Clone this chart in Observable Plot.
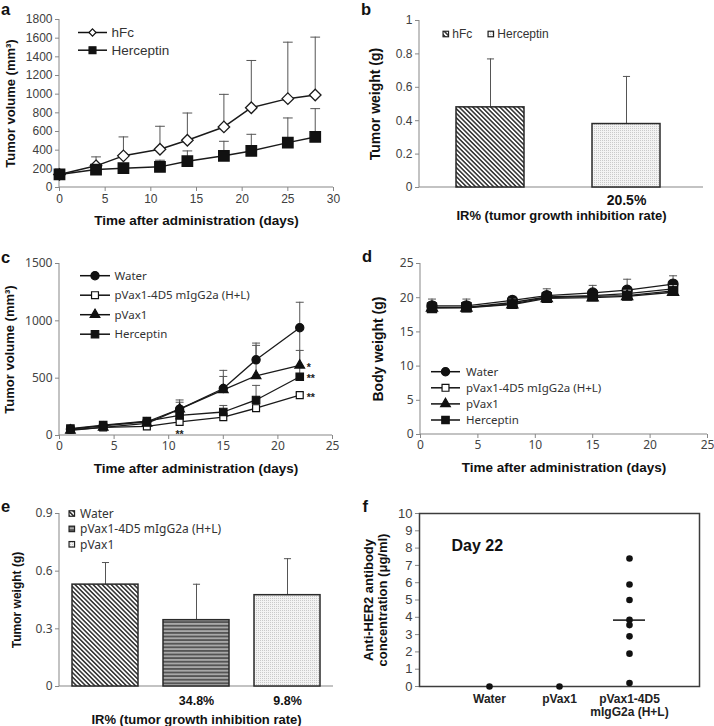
<!DOCTYPE html>
<html><head><meta charset="utf-8">
<script src="https://cdn.jsdelivr.net/npm/d3@7"></script>
<script src="https://cdn.jsdelivr.net/npm/@observablehq/plot@0.6"></script>
<style>
body{margin:0;background:#fff;}
#fig{position:relative;width:714px;height:726px;overflow:hidden;background:#fff;}
</style>
</head><body>
<svg width="0" height="0" style="position:absolute">
  <defs>
    <pattern id="pDiag" patternUnits="userSpaceOnUse" width="3.2" height="3.2" patternTransform="rotate(-45)">
      <rect width="3.2" height="3.2" fill="#ffffff"/>
      <rect width="1.6" height="3.2" fill="#3a3a3a"/>
    </pattern>
    <pattern id="pStripe" patternUnits="userSpaceOnUse" width="4" height="3.6">
      <rect width="4" height="3.6" fill="#a8a8a8"/>
      <rect width="4" height="1.8" fill="#555555"/>
    </pattern>
    <pattern id="pDots" patternUnits="userSpaceOnUse" width="2" height="2">
      <rect width="2" height="2" fill="#f3f3f3"/>
      <rect width="1" height="1" fill="#cacaca"/>
    </pattern>
  </defs>
</svg>
<div id="fig"></div>
<script>
// ---------------- DATA ----------------
// panel a
const daysA = [0, 4, 7, 11, 14, 18, 21, 25, 28];
const seriesA = ["hFc", "Herceptin"];
const hFcVolume = [140, 232, 339, 410, 506, 649, 855, 952, 991];
const hFcVolumeSD = [45, 96, 203, 246, 292, 349, 506, 605, 620];
const herceptinVolumeA = [140, 192, 207, 221, 282, 339, 392, 481, 542];
const herceptinVolumeSDA = [20, 18, 28, 71, 110, 156, 178, 264, 303];
const yTicksA = [0, 200, 400, 600, 800, 1000, 1200, 1400, 1600, 1800];
const xTicksA = [0, 5, 10, 15, 20, 25, 30];

// panel b
const groupsB = ["hFc", "Herceptin"];
const weightB = [0.48, 0.38];
const weightSDB = [0.29, 0.285];
const irB = ["", "20.5%"];
const yTicksB = [0, 0.2, 0.4, 0.6, 0.8, 1];

// panel c
const daysC = [1, 4, 8, 11, 15, 18, 22];
const seriesC = ["Water", "pVax1-4D5 mIgG2a (H+L)", "pVax1", "Herceptin"];
const volWater = [55, 85, 120, 230, 410, 660, 940];
const volWaterSD = [12, 12, 15, 80, 158, 146, 222];
const vol4D5 = [50, 70, 80, 118, 160, 238, 352];
const vol4D5SD = [8, 8, 10, 15, 20, 25, 20];
const volPVax1 = [45, 70, 105, 230, 398, 520, 612];
const volPVax1SD = [10, 10, 12, 60, 117, 266, 130];
const volHerc = [60, 90, 125, 175, 205, 310, 512];
const volHercSD = [10, 10, 15, 40, 57, 127, 440];
const sigSeriesC = ["pVax1", "Herceptin", "pVax1-4D5 mIgG2a (H+L)"];
const sigDayC = [22, 22, 22];
const sigLabelC = ["*", "**", "**"];
const sigBelowSeriesC = ["pVax1-4D5 mIgG2a (H+L)"];
const sigBelowDayC = [11];
const sigBelowLabelC = ["**"];
const yTicksC = [0, 500, 1000, 1500];
const xTicksC = [0, 5, 10, 15, 20, 25];

// panel d
const bwWater = [18.8, 18.8, 19.6, 20.3, 20.7, 21.1, 22.0];
const bwWaterSD = [1.0, 1.0, 0.6, 1.0, 1.1, 1.6, 1.2];
const bw4D5 = [18.6, 18.6, 19.3, 20.1, 20.3, 20.6, 21.3];
const bw4D5SD = [0.8, 0.8, 0.8, 0.8, 0.9, 1.0, 1.0];
const bwPVax1 = [18.5, 18.5, 19.0, 19.9, 20.0, 20.2, 20.8];
const bwPVax1SD = [0.8, 0.8, 0.8, 0.8, 0.8, 0.9, 0.8];
const bwHerc = [18.5, 18.6, 19.1, 20.0, 20.2, 20.3, 21.0];
const bwHercSD = [0.8, 0.8, 0.8, 0.8, 0.8, 0.8, 0.9];
const yTicksD = [0, 5, 10, 15, 20, 25];

// panel e
const groupsE = ["Water", "pVax1-4D5 mIgG2a (H+L)", "pVax1"];
const weightE = [0.53, 0.345, 0.475];
const weightSDE = [0.115, 0.187, 0.19];
const irE = ["", "34.8%", "9.8%"];
const yTicksE = [0, 0.3, 0.6, 0.9];

// panel f
const groupsF = ["Water", "pVax1", "pVax1-4D5 mIgG2a (H+L)"];
const groupLabelsF = ["Water", "pVax1", "pVax1-4D5\nmIgG2a (H+L)"];
const concWater = [0];
const concPVax1 = [0];
const conc4D5 = [7.4, 5.9, 5.0, 3.85, 3.55, 2.9, 1.9, 0.2];
const yTicksF = [0, 1, 2, 3, 4, 5, 6, 7, 8, 9, 10];

// ---------------- HELPERS ----------------
const ARIAL = '"Liberation Sans", Arial, sans-serif';
const KFONT = '"Noto Sans", "Liberation Sans", sans-serif';
const AXIS = "#878787";
const plain = d => String(d);
const fig = document.getElementById("fig");
function place(node, left, top) {
  node.style.position = "absolute"; node.style.left = left + "px"; node.style.top = top + "px";
  fig.appendChild(node);
}
const cap = { draw(ctx, size) { const w = Math.sqrt(size) / 2; ctx.moveTo(-w, 0); ctx.lineTo(w, 0); } };
const DIAMOND = d3.symbolDiamond2 || d3.symbolDiamond;
function addAxisLines(plot) {
  const xr = plot.scale("x").range, yr = plot.scale("y").range;
  const g = d3.select(plot).insert("g", "g").attr("stroke", AXIS).attr("stroke-width", 1);
  g.append("line").attr("x1", xr[0]).attr("x2", xr[0]).attr("y1", yr[0]).attr("y2", yr[1]);
  g.append("line").attr("x1", xr[0]).attr("x2", xr[1]).attr("y1", yr[0]).attr("y2", yr[0]);
}
function rowsOf(days, names, vals, sds) {
  const out = [];
  names.forEach((s, k) => days.forEach((d, i) => out.push({series: s, day: d, v: vals[k][i], sd: sds[k][i]})));
  return out;
}
function yTitle(t, dx, size) {
  return Plot.text([t], {frameAnchor: "left", rotate: -90, dx, textAnchor: "middle", lineAnchor: "middle",
    fontWeight: "bold", fontSize: size, fontFamily: ARIAL, fill: "#111"});
}
function xTitle(t, dy, size) {
  return Plot.text([t], {frameAnchor: "bottom", dy, textAnchor: "middle", lineAnchor: "middle",
    fontWeight: "bold", fontSize: size, fontFamily: ARIAL, fill: "#111"});
}
function errMarks(rows, x, capR) {
  return [
    Plot.ruleX(rows, {x, y1: "v", y2: d => d.v + d.sd, stroke: "#555", strokeWidth: 1}),
    Plot.dot(rows, {x, y: d => d.v + d.sd, symbol: cap, r: capR, stroke: "#555", fill: "none", strokeWidth: 1})
  ];
}

// ---------------- PANEL a ----------------
const rowsA = rowsOf(daysA, seriesA, [hFcVolume, herceptinVolumeA], [hFcVolumeSD, herceptinVolumeSDA]);
const pa = Plot.plot({
  width: 357, height: 228, marginLeft: 59, marginRight: 24, marginTop: 19, marginBottom: 41,
  style: {fontFamily: ARIAL, fontSize: "12px", background: "none", overflow: "visible"},
  x: {domain: [0, 30]}, y: {domain: [0, 1800]},
  marks: [
    Plot.axisY({ticks: yTicksA, tickFormat: plain, tickSize: 4, tickPadding: 3, stroke: AXIS, fill: "#404040", label: null, fontSize: 12, fontFamily: ARIAL}),
    Plot.axisX({ticks: xTicksA, tickFormat: plain, tickSize: 4, tickPadding: 3, stroke: AXIS, fill: "#404040", label: null, fontSize: 12, fontFamily: ARIAL}),
    ...errMarks(rowsA, "day", 5.5),
    Plot.line(rowsA, {x: "day", y: "v", z: "series", stroke: "#1a1a1a", strokeWidth: 1.5}),
    Plot.dot(rowsA.filter(d => d.series === seriesA[0]), {x: "day", y: "v", symbol: DIAMOND, r: 5.2, fill: "#fff", stroke: "#1a1a1a", strokeWidth: 1.3}),
    Plot.dot(rowsA.filter(d => d.series === seriesA[1]), {x: "day", y: "v", symbol: d3.symbolSquare, r: 5.8, fill: "#111", stroke: "#111"}),
    yTitle("Tumor volume (mm³)", -49, 13),
    xTitle("Time after administration (days)", 33, 13.5)
  ]
});
addAxisLines(pa); place(pa, 0, 0);

// ---------------- PANEL b ----------------
const patB = {"hFc": "url(#pDiag)", "Herceptin": "url(#pDots)"};
const rowsB = groupsB.map((g, i) => ({cat: g, v: weightB[i], sd: weightSDB[i], ir: irB[i]}));
const pb = Plot.plot({
  width: 354, height: 228, marginLeft: 59, marginRight: 11, marginTop: 20, marginBottom: 41,
  style: {fontFamily: ARIAL, fontSize: "12px", background: "none", overflow: "visible"},
  x: {domain: groupsB, paddingInner: 0.5, paddingOuter: 0.29, align: 0.46, axis: null},
  y: {domain: [0, 1]},
  color: {type: "identity"},
  marks: [
    Plot.axisY({ticks: yTicksB, tickFormat: plain, tickSize: 4, tickPadding: 3, stroke: AXIS, fill: "#404040", label: null, fontSize: 12, fontFamily: ARIAL}),
    ...errMarks(rowsB, "cat", 4),
    Plot.barY(rowsB, {x: "cat", y: "v", fill: d => patB[d.cat], stroke: "#2a2a2a", strokeWidth: 1.5}),
    Plot.text(rowsB, {x: "cat", text: "ir", frameAnchor: "bottom", dy: 13.5, lineAnchor: "middle", fontWeight: "bold", fontSize: 14, fontFamily: ARIAL, fill: "#111"}),
    yTitle("Tumor weight (g)", -44, 14),
    xTitle("IR% (tumor growth inhibition rate)", 28.5, 13)
  ]
});
addAxisLines(pb); place(pb, 360, 0);

// ---------------- PANEL c ----------------
const rowsC = rowsOf(daysC, seriesC, [volWater, vol4D5, volPVax1, volHerc], [volWaterSD, vol4D5SD, volPVax1SD, volHercSD]);
const symC = {
  "Water": {symbol: d3.symbolCircle, r: 4.1, fill: "#111"},
  "pVax1-4D5 mIgG2a (H+L)": {symbol: d3.symbolSquare, r: 3.9, fill: "#fff"},
  "pVax1": {symbol: d3.symbolTriangle, r: 3.6, fill: "#111"},
  "Herceptin": {symbol: d3.symbolSquare, r: 4.2, fill: "#111"}
};
const valueAt = (rows, s, day) => rows.find(d => d.series === s && d.day === day).v;
const sigRows = sigSeriesC.map((s, i) => ({day: sigDayC[i], v: valueAt(rowsC, s, sigDayC[i]), label: sigLabelC[i]}));
const sigBelowRows = sigBelowSeriesC.map((s, i) => ({day: sigBelowDayC[i], v: valueAt(rowsC, s, sigBelowDayC[i]), label: sigBelowLabelC[i]}));
const pc = Plot.plot({
  width: 357, height: 242, marginLeft: 59, marginRight: 25, marginTop: 33, marginBottom: 37,
  style: {fontFamily: KFONT, fontSize: "12px", background: "none", overflow: "visible"},
  x: {domain: [0, 25]}, y: {domain: [0, 1500]},
  marks: [
    Plot.axisY({ticks: yTicksC, tickFormat: plain, tickSize: 4, tickPadding: 3, stroke: AXIS, fill: "#444", label: null, fontSize: 12, fontFamily: KFONT}),
    Plot.axisX({ticks: xTicksC, tickFormat: plain, tickSize: 4, tickPadding: 2, stroke: AXIS, fill: "#444", label: null, fontSize: 12, fontFamily: KFONT}),
    ...errMarks(rowsC, "day", 4.5),
    Plot.line(rowsC, {x: "day", y: "v", z: "series", stroke: "#1a1a1a", strokeWidth: 1.3}),
    ...seriesC.map(s => Plot.dot(rowsC.filter(d => d.series === s), {x: "day", y: "v", symbol: symC[s].symbol, r: symC[s].r, fill: symC[s].fill, stroke: "#111", strokeWidth: 1.2})),
    Plot.text(sigRows, {x: "day", y: "v", text: "label", dx: 7, dy: 2, textAnchor: "start", lineAnchor: "middle", fontSize: 10.5, fontWeight: "bold", fontFamily: ARIAL, fill: "#222"}),
    Plot.text(sigBelowRows, {x: "day", y: "v", text: "label", dy: 13, textAnchor: "middle", lineAnchor: "middle", fontSize: 10.5, fontWeight: "bold", fontFamily: ARIAL, fill: "#222"}),
    yTitle("Tumor volume (mm³)", -50, 13),
    xTitle("Time after administration (days)", 33, 13.5)
  ]
});
addAxisLines(pc); place(pc, 0, 230);

// ---------------- PANEL d ----------------
const rowsD = rowsOf(daysC, seriesC, [bwWater, bw4D5, bwPVax1, bwHerc], [bwWaterSD, bw4D5SD, bwPVax1SD, bwHercSD]);
const symD = {
  "Water": {symbol: d3.symbolCircle, r: 5, fill: "#111"},
  "pVax1-4D5 mIgG2a (H+L)": {symbol: d3.symbolSquare, r: 5, fill: "#fff"},
  "pVax1": {symbol: d3.symbolTriangle, r: 4.2, fill: "#111"},
  "Herceptin": {symbol: d3.symbolSquare, r: 5.2, fill: "#111"}
};
const pd = Plot.plot({
  width: 354, height: 242, marginLeft: 60, marginRight: 7, marginTop: 33, marginBottom: 38,
  style: {fontFamily: KFONT, fontSize: "12px", background: "none", overflow: "visible"},
  x: {domain: [0, 25]}, y: {domain: [0, 25]},
  marks: [
    Plot.axisY({ticks: yTicksD, tickFormat: plain, tickSize: 4, tickPadding: 3, stroke: AXIS, fill: "#444", label: null, fontSize: 12, fontFamily: KFONT}),
    Plot.axisX({ticks: xTicksC, tickFormat: plain, tickSize: 4, tickPadding: 2, stroke: AXIS, fill: "#444", label: null, fontSize: 12, fontFamily: KFONT}),
    ...errMarks(rowsD, "day", 4.5),
    Plot.line(rowsD, {x: "day", y: "v", z: "series", stroke: "#1a1a1a", strokeWidth: 1.3}),
    ...seriesC.map(s => Plot.dot(rowsD.filter(d => d.series === s), {x: "day", y: "v", symbol: symD[s].symbol, r: symD[s].r, fill: symD[s].fill, stroke: "#111", strokeWidth: 1.2})),
    yTitle("Body weight (g)", -42, 14),
    xTitle("Time after administration (days)", 33, 13.5)
  ]
});
addAxisLines(pd); place(pd, 360, 230);

// ---------------- PANEL e ----------------
const patE = {"Water": "url(#pDiag)", "pVax1-4D5 mIgG2a (H+L)": "url(#pStripe)", "pVax1": "url(#pDots)"};
const rowsE = groupsE.map((g, i) => ({cat: g, v: weightE[i], sd: weightSDE[i], ir: irE[i]}));
const pe = Plot.plot({
  width: 357, height: 256, marginLeft: 59, marginRight: 24, marginTop: 43, marginBottom: 40,
  style: {fontFamily: KFONT, fontSize: "12px", background: "none", overflow: "visible"},
  x: {domain: groupsE, paddingInner: 0.27, paddingOuter: 0.13, axis: null},
  y: {domain: [0, 0.9]},
  color: {type: "identity"},
  marks: [
    Plot.axisY({ticks: yTicksE, tickFormat: plain, tickSize: 4, tickPadding: 3, stroke: AXIS, fill: "#444", label: null, fontSize: 12, fontFamily: KFONT}),
    ...errMarks(rowsE, "cat", 4),
    Plot.barY(rowsE, {x: "cat", y: "v", fill: d => patE[d.cat], stroke: "#2a2a2a", strokeWidth: 1.5}),
    Plot.text(rowsE, {x: "cat", text: "ir", frameAnchor: "bottom", dy: 14, lineAnchor: "middle", fontWeight: "bold", fontSize: 12.5, fontFamily: ARIAL, fill: "#111"}),
    yTitle("Tumor weight (g)", -42, 12),
    xTitle("IR% (tumor growth inhibition rate)", 33.5, 13)
  ]
});
addAxisLines(pe); place(pe, 0, 470);

// ---------------- PANEL f ----------------
const rowsF = [
  ...concWater.map(v => ({group: groupsF[0], v})),
  ...concPVax1.map(v => ({group: groupsF[1], v})),
  ...conc4D5.map(v => ({group: groupsF[2], v}))
];
const labelF = Object.fromEntries(groupsF.map((g, i) => [g, groupLabelsF[i]]));
const pf = Plot.plot({
  width: 354, height: 256, marginLeft: 59, marginRight: 15, marginTop: 43, marginBottom: 40,
  style: {fontFamily: ARIAL, fontSize: "12px", background: "none", overflow: "visible"},
  x: {type: "band", domain: groupsF, paddingInner: 0.543, paddingOuter: 0.771},
  y: {domain: [0, 10]},
  marks: [
    Plot.axisY({ticks: yTicksF, tickFormat: plain, tickSize: 4, tickPadding: 3, stroke: AXIS, fill: "#404040", label: null, fontSize: 13, fontFamily: ARIAL}),
    Plot.axisX({tickSize: 0, tickPadding: 7, tickFormat: g => labelF[g], fill: "#222", label: null, fontSize: 12, fontWeight: "bold", fontFamily: ARIAL, lineHeight: 1.1}),
    Plot.frame({stroke: "#3c3c3c", strokeWidth: 1.5}),
    Plot.tickY(rowsF.filter(d => d.group === groupsF[2]), Plot.groupX({y: "mean"}, {x: "group", y: "v", stroke: "#111", strokeWidth: 1.5})),
    Plot.dot(rowsF, {x: "group", y: "v", r: 3.3, fill: "#111", stroke: "none"}),
    Plot.text(["Day 22"], {frameAnchor: "top-left", dx: 32, dy: 32, textAnchor: "start", lineAnchor: "middle", fontWeight: "bold", fontSize: 16, fontFamily: ARIAL, fill: "#111"}),
    Plot.text(["Anti-HER2 antibody\nconcentration (μg/ml)"], {frameAnchor: "left", rotate: -90, dx: -44, textAnchor: "middle", lineAnchor: "middle", lineHeight: 1.05, fontWeight: "bold", fontSize: 13, fontFamily: ARIAL, fill: "#111"})
  ]
});
place(pf, 360, 470);

// ---------------- LEGENDS & PANEL LETTERS ----------------
const ov = d3.select(fig).append("svg").attr("width", 714).attr("height", 726)
  .style("position", "absolute").style("left", "0px").style("top", "0px").style("pointer-events", "none");

function lineLegend(items, o) {
  items.forEach((it, i) => {
    const y = o.y0 + i * o.step;
    ov.append("line").attr("x1", o.x0).attr("x2", o.x1).attr("y1", y).attr("y2", y).attr("stroke", "#111").attr("stroke-width", 1.5);
    ov.append("path").attr("d", d3.symbol(it.symbol, Math.PI * it.r * it.r)()).attr("transform", `translate(${o.xm},${y})`)
      .attr("fill", it.fill).attr("stroke", "#111").attr("stroke-width", 1.2);
    ov.append("text").attr("x", o.tx).attr("y", y).attr("dy", "0.35em").attr("font-family", o.font)
      .attr("font-size", o.size).attr("fill", "#333").text(it.label);
  });
}
function swatchLegend(items, o) {
  items.forEach((it, i) => {
    const x = o.xs[i] ?? o.xs[0], y = o.y0 + i * (o.step || 0);
    const h = o.box / 2;
    ov.append("rect").attr("x", x - h).attr("y", y - h).attr("width", o.box).attr("height", o.box)
      .attr("fill", it.fill).attr("stroke", "#222").attr("stroke-width", 1.2);
    ov.append("text").attr("x", x + o.gap).attr("y", y).attr("dy", "0.35em").attr("font-family", o.font)
      .attr("font-size", o.size).attr("fill", "#333").text(it.label);
  });
}

lineLegend([
  {label: seriesA[0], symbol: DIAMOND, r: 3.2, fill: "#fff"},
  {label: seriesA[1], symbol: d3.symbolSquare, r: 3.9, fill: "#111"}
], {x0: 78, x1: 107, xm: 92.5, tx: 111.5, y0: 32.5, step: 17.7, font: ARIAL, size: 13.5});

swatchLegend(groupsB.map(g => ({label: g, fill: patB[g]})), {xs: [445.8, 490.8], y0: 34, box: 5.5, gap: 6.5, font: ARIAL, size: 12});

lineLegend(seriesC.map(s => ({label: s, symbol: symC[s].symbol, r: symC[s].r, fill: symC[s].fill})),
  {x0: 80, x1: 110, xm: 95, tx: 114.5, y0: 275.7, step: 19.5, font: KFONT, size: 11.5});

lineLegend(seriesC.map(s => ({label: s, symbol: symC[s].symbol, r: symC[s].r, fill: symC[s].fill})),
  {x0: 431, x1: 460, xm: 445.5, tx: 466, y0: 371.7, step: 16.1, font: KFONT, size: 11.5});

swatchLegend(groupsE.map(g => ({label: g, fill: patE[g]})), {xs: [71.8], y0: 513.5, step: 15.4, box: 5.5, gap: 8.2, font: KFONT, size: 12});

[["a", 1, 15], ["b", 361, 14.5], ["c", 1, 263], ["d", 362, 261.7], ["e", 1, 512.3], ["f", 362.5, 511.7]].forEach(([t, x, y]) =>
  ov.append("text").attr("x", x).attr("y", y).attr("font-family", ARIAL).attr("font-weight", "bold")
    .attr("font-size", 16.5).attr("fill", "#111").text(t));
</script>
</body></html>
